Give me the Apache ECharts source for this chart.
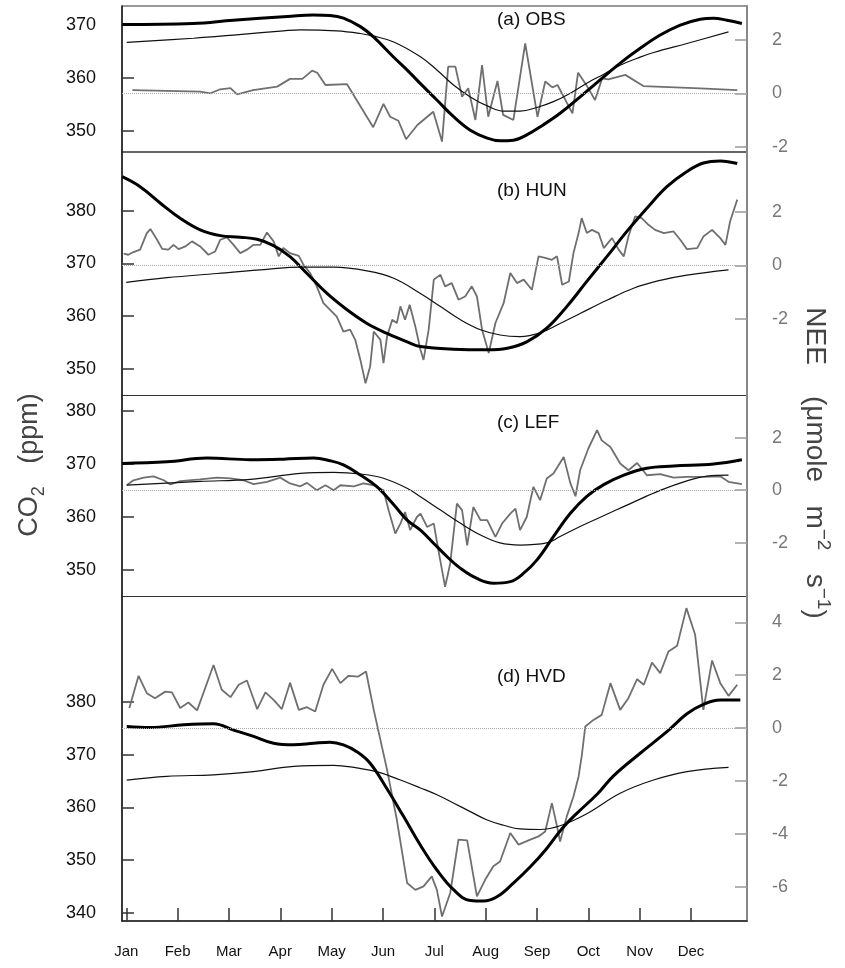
<!DOCTYPE html>
<html>
<head>
<meta charset="utf-8">
<title>CO2 and NEE seasonal cycles</title>
<script src="https://cdn.jsdelivr.net/npm/echarts@6.0.0/dist/echarts.min.js"></script>
<style>
  html, body { margin: 0; padding: 0; background: #fff; }
  #chart { width: 845px; height: 968px; }
</style>
</head>
<body>
<div id="chart"></div>
<script>
// x values are in months: 0 = Jan tick, 11 = Dec tick
const monthLabels = ['Jan', 'Feb', 'Mar', 'Apr', 'May', 'Jun', 'Jul', 'Aug', 'Sep', 'Oct', 'Nov', 'Dec'];
const monthTicks = [0, 1, 2, 3, 4, 5, 6, 7, 8, 9, 10, 11];

// (a) OBS
const obsCo2 = [[-0.08,370.1],[1.30,370.3],[2.08,370.9],[3.14,371.6],[3.64,371.9],[3.97,371.8],[4.23,371.3],[4.56,369.7],[4.81,367.8],[5.20,364.0],[5.53,360.9],[5.73,358.9],[6.05,355.8],[6.38,352.6],[6.70,350.1],[7.03,348.6],[7.28,348.1],[7.54,348.2],[7.80,349.2],[8.12,351.1],[8.45,353.3],[8.84,356.4],[9.23,359.6],[9.62,362.8],[10.01,365.6],[10.40,368.1],[10.79,370.0],[11.18,371.1],[11.44,371.3],[11.70,370.9],[11.99,370.3]];
const obsModel = [[0.01,366.7],[1.31,367.5],[2.09,368.1],[3.06,368.9],[3.39,369.1],[4.10,368.9],[4.56,368.4],[4.82,367.9],[5.21,366.8],[5.73,364.0],[6.05,361.5],[6.38,358.6],[6.70,356.4],[7.03,354.7],[7.35,353.7],[7.67,353.7],[8.00,354.4],[8.32,355.5],[8.65,357.1],[8.97,359.0],[9.30,360.7],[9.62,362.4],[9.95,363.7],[10.27,364.8],[10.92,366.5],[11.73,368.7]];
const obsNee = [[0.12,0.12],[1.44,0.06],[1.64,0.0],[1.83,0.15],[2.03,0.19],[2.16,-0.04],[2.47,0.12],[2.94,0.25],[3.19,0.54],[3.43,0.54],[3.62,0.85],[3.72,0.77],[3.88,0.31],[4.30,0.34],[4.81,-1.27],[5.01,-0.40],[5.14,-0.88],[5.30,-1.03],[5.45,-1.72],[5.67,-1.19],[5.98,-0.69],[6.15,-1.81],[6.27,1.0],[6.41,1.0],[6.54,-0.13],[6.66,0.19],[6.80,-1.0],[6.93,1.06],[7.05,-0.88],[7.23,0.46],[7.34,-0.81],[7.54,-1.0],[7.77,1.87],[8.01,-0.88],[8.16,0.44],[8.30,0.22],[8.40,0.31],[8.69,-0.75],[8.80,0.77],[8.98,0.25],[9.13,-0.25],[9.27,0.56],[9.39,0.52],[9.72,0.69],[10.07,0.27],[11.18,0.18],[11.90,0.12]];

// (b) HUN
const hunCo2 = [[-0.08,386.5],[0.27,384.6],[0.66,381.5],[1.05,378.6],[1.44,376.4],[1.83,375.3],[2.22,375.0],[2.55,374.6],[2.87,373.4],[3.19,371.3],[3.52,368.1],[3.91,364.3],[4.30,361.2],[4.69,358.6],[5.08,356.7],[5.47,355.1],[5.73,354.2],[6.38,353.7],[7.03,353.6],[7.42,353.9],[7.80,355.1],[8.19,357.7],[8.58,361.8],[8.97,366.6],[9.36,371.3],[9.75,376.1],[10.14,380.5],[10.53,384.6],[10.92,387.5],[11.24,389.1],[11.57,389.5],[11.90,389.0]];
const hunModel = [[0.0,366.4],[0.79,367.3],[1.77,368.1],[2.74,368.9],[3.39,369.3],[4.04,369.3],[4.69,368.6],[5.21,367.2],[5.73,364.3],[6.12,361.8],[6.51,359.3],[6.90,357.4],[7.28,356.4],[7.67,356.1],[8.06,356.8],[8.45,358.6],[8.84,360.5],[9.36,363.0],[9.88,365.3],[10.40,366.8],[10.92,367.8],[11.73,368.8]];
const hunNee = [[-0.05,0.44],[0.04,0.40],[0.14,0.50],[0.27,0.59],[0.40,1.21],[0.47,1.36],[0.60,0.96],[0.70,0.62],[0.82,0.59],[0.92,0.77],[1.02,0.61],[1.15,0.71],[1.28,0.90],[1.44,0.71],[1.60,0.40],[1.73,0.52],[1.83,0.96],[1.96,1.05],[2.09,0.77],[2.22,0.46],[2.35,0.59],[2.48,0.77],[2.61,0.77],[2.74,1.23],[2.87,0.90],[2.97,0.34],[3.06,0.65],[3.19,0.46],[3.36,0.36],[3.45,0.03],[3.58,-0.28],[3.71,-0.78],[3.84,-1.41],[3.97,-1.66],[4.10,-1.91],[4.23,-2.47],[4.36,-2.40],[4.46,-2.78],[4.56,-3.53],[4.66,-4.40],[4.75,-3.78],[4.82,-2.47],[4.95,-2.78],[5.01,-3.65],[5.08,-2.65],[5.18,-2.03],[5.27,-2.15],[5.34,-1.53],[5.43,-2.03],[5.52,-1.47],[5.63,-2.28],[5.73,-3.15],[5.79,-3.53],[5.89,-2.40],[5.99,-0.53],[6.12,-0.35],[6.21,-0.78],[6.34,-0.66],[6.47,-1.28],[6.60,-1.16],[6.73,-0.78],[6.83,-1.16],[6.93,-2.40],[7.06,-3.27],[7.19,-2.15],[7.35,-1.41],[7.48,-0.28],[7.61,-0.66],[7.74,-0.53],[7.90,-0.91],[8.03,0.34],[8.16,0.28],[8.29,0.21],[8.39,0.34],[8.49,-0.72],[8.62,-0.60],[8.71,0.46],[8.81,1.21],[8.87,1.77],[8.97,1.21],[9.07,1.33],[9.20,1.21],[9.30,0.65],[9.46,1.02],[9.59,0.59],[9.69,0.34],[9.78,1.08],[9.91,1.83],[10.04,1.77],[10.17,1.52],[10.30,1.33],[10.47,1.21],[10.66,1.27],[10.79,0.96],[10.92,0.61],[11.12,0.65],[11.24,1.08],[11.41,1.33],[11.57,1.02],[11.67,0.77],[11.76,1.64],[11.90,2.46]];

// (c) LEF
const lefCo2 = [[-0.08,370.1],[0.79,370.4],[1.57,371.1],[2.42,370.8],[3.06,370.9],[3.65,371.1],[3.97,370.6],[4.23,369.8],[4.56,367.9],[4.88,365.7],[5.21,362.3],[5.47,359.4],[5.73,357.5],[5.99,355.0],[6.25,352.5],[6.51,350.3],[6.83,348.4],[7.15,347.5],[7.48,347.8],[7.74,349.4],[8.00,351.9],[8.32,356.3],[8.65,360.7],[8.97,363.9],[9.30,366.1],[9.69,367.9],[10.14,369.2],[10.66,369.6],[11.44,370.0],[11.99,370.8]];
const lefModel = [[0.01,366.0],[1.44,366.7],[2.42,367.1],[3.39,368.2],[4.04,368.4],[4.56,368.1],[5.01,367.3],[5.47,365.4],[5.73,363.8],[6.12,361.3],[6.51,358.8],[6.90,356.6],[7.28,355.1],[7.67,354.7],[8.19,355.1],[8.45,356.3],[8.84,358.2],[9.36,360.5],[9.88,362.8],[10.40,365.0],[10.92,366.8],[11.31,367.7],[11.73,367.9]];
const lefNee = [[0.01,0.19],[0.14,0.38],[0.34,0.48],[0.53,0.53],[0.73,0.38],[0.86,0.22],[1.05,0.35],[1.44,0.41],[1.77,0.48],[2.03,0.45],[2.28,0.38],[2.48,0.23],[2.74,0.32],[3.00,0.48],[3.19,0.26],[3.39,0.15],[3.52,0.28],[3.71,0.0],[3.88,0.19],[4.04,0.0],[4.17,0.19],[4.43,0.15],[4.62,0.26],[4.82,0.19],[5.01,0.0],[5.11,-0.76],[5.24,-1.65],[5.34,-1.27],[5.43,-0.83],[5.53,-1.52],[5.66,-1.02],[5.73,-0.89],[5.86,-1.40],[5.99,-1.27],[6.08,-2.29],[6.21,-3.68],[6.31,-2.79],[6.44,-0.51],[6.54,-0.76],[6.64,-2.10],[6.76,-0.64],[6.90,-1.14],[7.03,-1.14],[7.19,-1.78],[7.32,-1.27],[7.48,-0.89],[7.58,-0.70],[7.67,-1.52],[7.80,-1.02],[7.93,0.13],[8.06,-0.38],[8.19,0.45],[8.32,0.64],[8.52,1.27],[8.65,0.26],[8.75,-0.23],[8.84,0.76],[9.00,1.59],[9.17,2.29],[9.26,1.90],[9.43,1.65],[9.62,1.02],[9.78,0.76],[9.95,1.04],[10.14,0.57],[10.40,0.61],[10.66,0.48],[10.92,0.51],[11.24,0.51],[11.57,0.53],[11.73,0.32],[11.99,0.23]];

// (d) HVD
const hvdCo2 = [[0.01,375.4],[0.47,375.2],[1.12,375.7],[1.70,375.9],[2.09,374.7],[2.48,373.5],[2.87,372.2],[3.26,371.9],[3.65,372.2],[3.97,372.4],[4.23,371.9],[4.49,370.6],[4.75,368.4],[5.08,363.5],[5.40,358.3],[5.73,352.8],[6.05,348.1],[6.38,344.3],[6.70,342.3],[6.96,342.2],[7.22,343.0],[7.54,345.6],[7.87,348.7],[8.19,352.2],[8.49,356.0],[8.78,358.9],[9.17,362.5],[9.49,366.0],[10.01,370.3],[10.53,374.4],[10.92,377.8],[11.24,379.6],[11.57,380.4],[11.96,380.4]];
const hvdModel = [[0.01,365.2],[0.79,365.9],[1.70,366.2],[2.48,366.8],[3.26,367.8],[4.04,368.0],[4.49,367.5],[4.88,366.8],[5.34,365.2],[5.73,363.7],[6.05,362.4],[6.38,360.8],[6.70,359.2],[7.03,357.6],[7.35,356.6],[7.67,355.9],[8.06,355.8],[8.45,356.5],[8.97,358.8],[9.62,362.7],[10.27,365.2],[10.92,366.8],[11.73,367.6]];
const hvdNee = [[0.06,0.76],[0.24,1.98],[0.40,1.32],[0.56,1.13],[0.76,1.38],[0.89,1.35],[1.05,0.76],[1.21,0.97],[1.38,0.67],[1.70,2.39],[1.86,1.45],[2.03,1.17],[2.19,1.64],[2.35,1.80],[2.55,0.72],[2.71,1.35],[2.87,1.07],[3.03,0.72],[3.19,1.72],[3.36,0.69],[3.52,0.79],[3.68,0.63],[3.84,1.64],[4.01,2.24],[4.17,1.70],[4.33,1.98],[4.52,1.95],[4.67,2.14],[4.82,0.69],[5.08,-1.58],[5.27,-3.47],[5.47,-5.86],[5.63,-6.12],[5.79,-5.99],[5.95,-5.61],[6.05,-6.12],[6.15,-7.13],[6.31,-6.24],[6.47,-4.22],[6.64,-4.25],[6.83,-6.37],[6.99,-5.74],[7.15,-5.23],[7.28,-5.05],[7.48,-3.97],[7.64,-4.41],[7.87,-4.22],[8.03,-4.10],[8.16,-3.91],[8.29,-2.84],[8.39,-3.72],[8.45,-4.29],[8.58,-3.34],[8.71,-2.59],[8.81,-1.83],[8.87,-1.07],[8.94,0.06],[9.10,0.31],[9.26,0.50],[9.43,1.70],[9.62,0.69],[9.78,1.13],[9.95,1.85],[10.08,1.64],[10.24,2.48],[10.40,2.08],[10.56,2.90],[10.73,3.12],[10.91,4.54],[11.08,3.53],[11.24,0.69],[11.41,2.56],[11.57,1.70],[11.73,1.22],[11.90,1.64]];

const FONT = "'Liberation Sans', Arial, Helvetica, sans-serif";

const panels = [
    { name: '(a) OBS', top: 6, height: 146, labelY: 20, co2Range: [345.97, 373.6], neeRange: [-2.2, 3.27],
      co2Ticks: [350, 360, 370], neeTicks: [-2, 0, 2], co2: obsCo2, model: obsModel, nee: obsNee },
    { name: '(b) HUN', top: 152, height: 243.5, labelY: 191, co2Range: [344.9, 391.2], neeRange: [-4.86, 4.24],
      co2Ticks: [350, 360, 370, 380], neeTicks: [-2, 0, 2], co2: hunCo2, model: hunModel, nee: hunNee },
    { name: '(c) LEF', top: 395.5, height: 201, labelY: 423, co2Range: [345, 382.9], neeRange: [-4.05, 3.61],
      co2Ticks: [350, 360, 370, 380], neeTicks: [-2, 0, 2], co2: lefCo2, model: lefModel, nee: lefNee },
    { name: '(d) HVD', top: 596.5, height: 324.5, labelY: 677, co2Range: [338.4, 400.1], neeRange: [-7.3, 4.98],
      co2Ticks: [340, 350, 360, 370, 380], neeTicks: [-6, -4, -2, 0, 2, 4], co2: hvdCo2, model: hvdModel, nee: hvdNee }
];

const grids = [], xAxes = [], yAxes = [], series = [], graphics = [];

panels.forEach((p, i) => {
    const last = i === panels.length - 1;
    grids.push({
        left: 122, width: 625, top: p.top, height: p.height,
        show: true, borderColor: '#333', borderWidth: 1.2
    });
    xAxes.push({
        gridIndex: i, type: 'value', min: -0.083, max: 12.09,
        axisLine: { show: last, onZero: false, lineStyle: { color: '#222', width: 1.5 } },
        axisTick: { show: last, inside: true, length: 13, customValues: monthTicks, lineStyle: { color: '#333', width: 1.5 } },
        axisLabel: {
            show: last, customValues: monthTicks, margin: 23,
            formatter: v => monthLabels[Math.round(v)],
            fontSize: 15, color: '#111', fontFamily: FONT
        },
        splitLine: { show: false }
    });
    yAxes.push({
        gridIndex: i, type: 'value', position: 'left',
        min: p.co2Range[0], max: p.co2Range[1],
        axisLine: { show: true, onZero: false, lineStyle: { color: '#222', width: 1.5 } },
        axisTick: { show: true, inside: true, length: 12, customValues: p.co2Ticks, lineStyle: { color: '#333', width: 1.5 } },
        axisLabel: { customValues: p.co2Ticks, margin: 26, fontSize: 18, color: '#111', fontFamily: FONT },
        splitLine: { show: false }
    });
    yAxes.push({
        gridIndex: i, type: 'value', position: 'right',
        min: p.neeRange[0], max: p.neeRange[1],
        axisLine: { show: true, onZero: false, lineStyle: { color: '#888', width: 2 } },
        axisTick: { show: true, inside: true, length: 12, customValues: p.neeTicks, lineStyle: { color: '#999', width: 1.5 } },
        axisLabel: { customValues: p.neeTicks, margin: 25, fontSize: 18, color: '#777', fontFamily: FONT },
        splitLine: { show: false }
    });

    series.push({
        type: 'line', xAxisIndex: i, yAxisIndex: 2 * i + 1, data: p.nee,
        showSymbol: false, z: 2,
        lineStyle: { color: '#6f6f6f', width: 1.8 },
        markLine: {
            silent: true, symbol: 'none', label: { show: false },
            lineStyle: { type: 'dotted', color: '#aaa', width: 1 },
            data: [{ yAxis: 0 }]
        }
    });
    series.push({
        type: 'line', xAxisIndex: i, yAxisIndex: 2 * i, data: p.model,
        smooth: 0.4, showSymbol: false, z: 3,
        lineStyle: { color: '#111', width: 1.2 }
    });
    series.push({
        type: 'line', xAxisIndex: i, yAxisIndex: 2 * i, data: p.co2,
        smooth: 0.4, showSymbol: false, z: 4,
        lineStyle: { color: '#000', width: 3 }
    });

    graphics.push({
        type: 'text', x: 497, y: p.labelY,
        style: { text: p.name, fill: '#111', fontSize: 19, fontFamily: FONT, align: 'left', verticalAlign: 'middle' }
    });
});

graphics.push({
    type: 'text', x: 30, y: 465, rotation: Math.PI / 2,
    style: {
        text: '{a|CO}{s|2}{a|   (ppm)}',
        align: 'center', verticalAlign: 'middle',
        rich: {
            a: { fontSize: 27, fontFamily: FONT, fill: '#444', lineHeight: 36 },
            s: { fontSize: 18, fontFamily: FONT, fill: '#444', verticalAlign: 'bottom', lineHeight: 18 }
        }
    }
});
graphics.push({
    type: 'text', x: 815, y: 463, rotation: -Math.PI / 2,
    style: {
        text: '{a|NEE    (\u03bcmole   m}{s|\u22122}{a|   s}{s|\u22121}{a|)}',
        align: 'center', verticalAlign: 'middle',
        rich: {
            a: { fontSize: 28, fontFamily: FONT, fill: '#444', lineHeight: 36 },
            s: { fontSize: 19, fontFamily: FONT, fill: '#444', verticalAlign: 'top', lineHeight: 19 }
        }
    }
});

const chart = echarts.init(document.getElementById('chart'), null, { renderer: 'canvas' });
chart.setOption({
    animation: false,
    backgroundColor: '#fff',
    grid: grids,
    xAxis: xAxes,
    yAxis: yAxes,
    series: series,
    graphic: graphics
});
</script>
</body>
</html>
